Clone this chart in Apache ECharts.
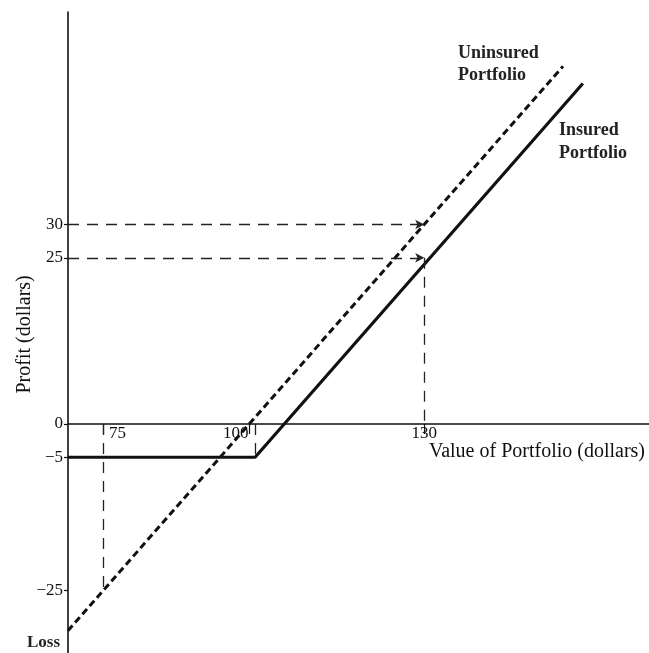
<!DOCTYPE html>
<html>
<head>
<meta charset="utf-8">
<script src="https://cdn.jsdelivr.net/npm/echarts@6/dist/echarts.min.js"></script>
<style>
html,body{margin:0;padding:0;background:#fff;}
#c{width:649px;height:653px;}
</style>
</head>
<body>
<div id="c"></div>
<script>
// ---- data ----
const uninsuredValue = [68.9, 153.8];
const uninsuredProfit = [-31.1, 53.8];
const insuredValue = [68.9, 101, 157.2];
const insuredProfit = [-5, -5, 51.2];
const xTickValues = [75, 100, 130];
const yTickValues = [30, 25, 0, -5, -25];
const guideLevels = [30, 25];
const guideLevelEnd = 130;
const guideVertX = [130, 75, 101];
const guideVertTop = [25, 0, 0];
const guideVertBottom = [0, -25, -5];

const X_MIN = 68.92, X_MAX = 168.54, Y_MIN = -35, Y_MAX = 61.955;
const GRID_TOP = 12, GRID_H = 644.75;
const serif = '"Liberation Serif", "DejaVu Serif", serif';
const ink = '#111';
// the x axis sits on profit = 0: shift it up from the grid bottom by the zero position
const zeroShift = -GRID_H * (0 - Y_MIN) / (Y_MAX - Y_MIN);

const chart = echarts.init(document.getElementById('c'), null, {renderer: 'canvas'});

const guideData = [];
guideLevels.forEach(function (p) {
  guideData.push([{coord: [X_MIN, p], symbol: 'none'}, {coord: [guideLevelEnd, p], symbol: 'arrow', symbolSize: [7, 9]}]);
});
guideVertX.forEach(function (v, i) {
  guideData.push([{coord: [v, guideVertTop[i]], symbol: 'none'}, {coord: [v, guideVertBottom[i]], symbol: 'none'}]);
});

const tokenBase = {fontFamily: serif, fontSize: 17, color: ink};
const xLabelRich = {
  r: Object.assign({padding: [0, 0, 0, 28]}, tokenBase),
  l: Object.assign({padding: [0, 27, 0, 0]}, tokenBase),
  c: Object.assign({}, tokenBase)
};

chart.setOption({
  animation: false,
  backgroundColor: '#fff',
  grid: {left: 68, top: GRID_TOP, width: 581, height: GRID_H, containLabel: false, outerBoundsMode: 'none'},
  xAxis: {
    type: 'value', min: X_MIN, max: X_MAX,
    position: 'bottom', offset: zeroShift,
    splitLine: {show: false},
    axisLine: {onZero: false, lineStyle: {color: ink, width: 1.6}},
    axisTick: {show: true, customValues: xTickValues, length: 10, lineStyle: {color: ink, width: 1.2}},
    axisLabel: {
      show: true,
      customValues: xTickValues, margin: 1, hideOverlap: false,
      fontFamily: serif, fontSize: 17, color: ink,
      formatter: function (v) {
        const n = Math.round(Number(v));
        const key = n === 75 ? 'r' : (n === 100 ? 'l' : 'c');
        return '{' + key + '|' + n + '}';
      },
      rich: xLabelRich
    },
    name: 'Value of Portfolio (dollars)',
    nameLocation: 'end', nameGap: -4, nameMoveOverlap: false,
    nameTextStyle: {fontFamily: serif, fontSize: 20, color: ink, align: 'right', verticalAlign: 'top', padding: [18, 0, 0, 0]}
  },
  yAxis: {
    type: 'value', min: Y_MIN, max: Y_MAX,
    splitLine: {show: false},
    axisLine: {onZero: false, lineStyle: {color: ink, width: 1.6}},
    axisTick: {show: true, customValues: yTickValues, length: 4, lineStyle: {color: ink, width: 1.2}},
    axisLabel: {
      customValues: yTickValues, margin: 5,
      fontFamily: serif, fontSize: 17, color: ink,
      formatter: function (v) { return String(v).replace('-', '\u2212'); }
    },
    name: 'Profit (dollars)',
    nameLocation: 'middle', nameGap: 33, nameRotate: 90, nameMoveOverlap: false,
    nameTextStyle: {fontFamily: serif, fontSize: 20, color: ink}
  },
  series: [
    {
      name: 'Uninsured Portfolio', type: 'line', symbol: 'none', silent: true,
      data: uninsuredValue.map(function (v, i) { return [v, uninsuredProfit[i]]; }),
      lineStyle: {color: ink, width: 3, type: [7, 4]},
      z: 3
    },
    {
      name: 'Insured Portfolio', type: 'line', symbol: 'none', silent: true,
      data: insuredValue.map(function (v, i) { return [v, insuredProfit[i]]; }),
      lineStyle: {color: ink, width: 3.2},
      z: 4
    },
    {
      name: 'guides', type: 'line', data: [], symbol: 'none', silent: true,
      markLine: {
        silent: true, animation: false,
        label: {show: false},
        lineStyle: {color: '#222', width: 1.3, type: [11, 8]},
        data: guideData
      }
    }
  ],
  graphic: [
    {type: 'text', left: 458, top: 42, style: {text: 'Uninsured\nPortfolio', font: 'bold 18px ' + serif, fill: '#222', lineHeight: 22}},
    {type: 'text', left: 559, top: 119, style: {text: 'Insured\nPortfolio', font: 'bold 18px ' + serif, fill: '#222', lineHeight: 23}},
    {type: 'text', left: 27, top: 634, style: {text: 'Loss', font: 'bold 17px ' + serif, fill: '#222'}}
  ]
});
</script>
</body>
</html>
